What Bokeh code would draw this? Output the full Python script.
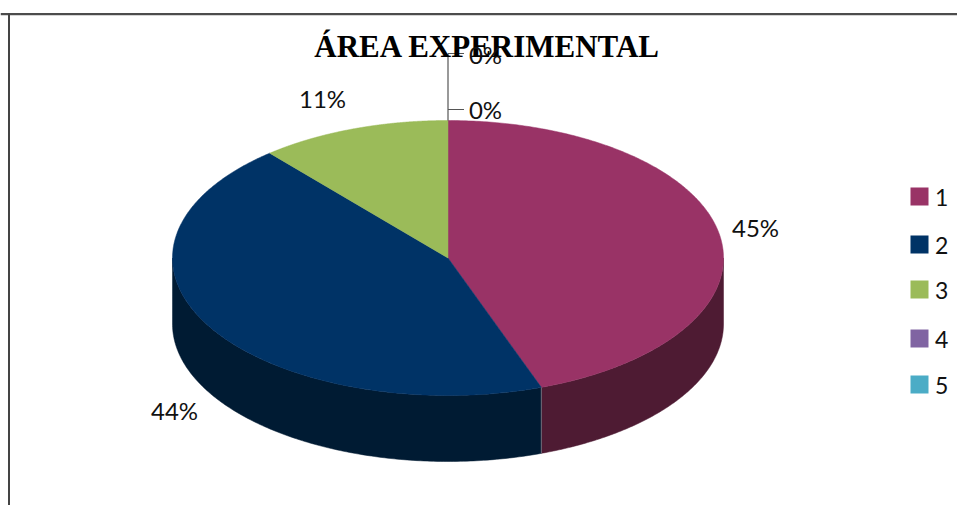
import numpy as np
from bokeh.plotting import figure
from bokeh.models import Range1d
from bokeh.core.properties import value
from bokeh.embed import file_html
from bokeh.resources import INLINE

categories = ["1", "2", "3", "4", "5"]
shares = [44.5, 44.3, 11.2, 0.0, 0.0]
pct_labels = ["45%", "44%", "11%", "0%", "0%"]
top_colors = ["#993366", "#003366", "#9BBB59", "#8064A2", "#4BACC6"]
side_colors = ["#4E1B33", "#001B33", "#4E5E2D", "#403251", "#265663"]
title = "ÁREA EXPERIMENTAL"

W, H = 957, 505
p = figure(width=W, height=H, x_range=Range1d(0, W), y_range=Range1d(H, 0),
           output_backend="svg", toolbar_location=None, min_border=0,
           x_axis_type=None, y_axis_type=None, outline_line_color=None)
p.grid.visible = False
p.background_fill_color = "white"
p.border_fill_color = "white"

cx, cy, rx, ry, depth = 447.5, 257.5, 275.5, 137.5, 66


def pt(deg):
    a = np.radians(deg)
    return cx + rx * np.sin(a), cy - ry * np.cos(a)


cum = np.cumsum([0.0] + shares) / sum(shares) * 360
# side walls (only the front half, 90-270 degrees clockwise from top)
for i in range(len(shares)):
    a0, a1 = max(cum[i], 90), min(cum[i + 1], 270)
    if a1 <= a0:
        continue
    t = np.linspace(a0, a1, 160)
    x, y = pt(t)
    p.patch(np.r_[x, x[::-1]], np.r_[y, (y + depth)[::-1]],
            fill_color=side_colors[i], line_color=side_colors[i], line_width=0.5)
# top faces
for i in range(len(shares)):
    if shares[i] <= 0:
        continue
    t = np.linspace(cum[i], cum[i + 1], 300)
    x, y = pt(t)
    p.patch(np.r_[cx, x], np.r_[cy, y], fill_color=top_colors[i],
            line_color=top_colors[i], line_width=0.5)

# wall seam
sx, sy = pt(cum[1])
p.line([sx, sx], [sy, sy + depth], line_color="#8A7F88", line_width=0.8)

# leader lines of zero labels
lead_x = 447.5
tick_y = [109, 53]
p.line([lead_x, lead_x], [120, tick_y[1]], line_color="#555555", line_width=1.2)
for ty in tick_y:
    p.line([lead_x, lead_x + 16], [ty, ty], line_color="#555555", line_width=1.2)

# chart border
p.line([0, W], [13.5, 13.5], line_color="#111111", line_width=1.5)
p.line([0, W], [15, 15], line_color="#D4D4D4", line_width=1)
p.line([8.5, 8.5], [13, H], line_color="#444444", line_width=2)

# title
p.text([487], [46], text=[title], text_font=value("Liberation Serif"),
       text_font_style="bold", text_font_size="31px", text_color="#000000",
       text_align="center", text_baseline="middle")

# percentage labels
lab_x = [755, 174, 322, 485, 485]
lab_y = [227, 410, 98, 109, 54]
for lx, ly, s in zip(lab_x, lab_y, pct_labels):
    p.text([lx], [ly], text=[s], text_font=value("Lato"), text_font_size="24px",
           text_color="#111111", text_align="center", text_baseline="middle")

# legend
leg_y = [196, 244, 289, 338, 384]
for ly, c, s in zip(leg_y, top_colors, categories):
    p.rect([919], [ly], width=18, height=18, fill_color=c, line_color=None)
    p.text([934.5], [ly + 1], text=[s], text_font=value("Lato"), text_font_size="23px",
           text_color="#111111", text_align="left", text_baseline="middle")

open("out.html", "w").write(file_html(p, INLINE))
